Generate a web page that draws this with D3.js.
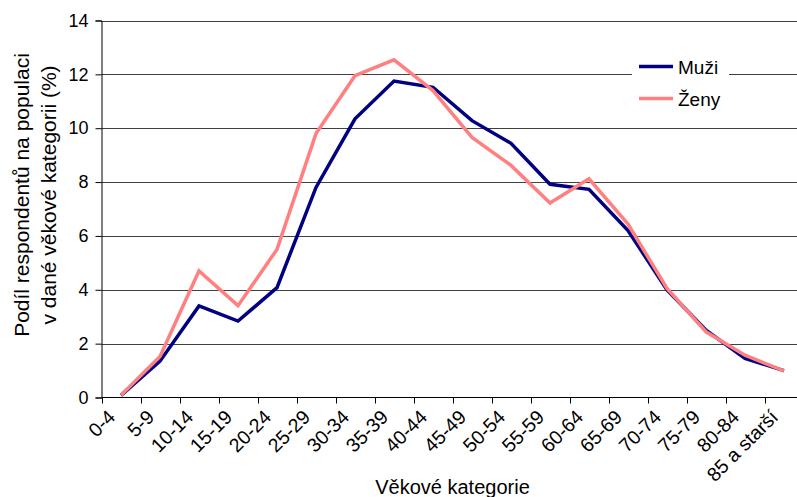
<!DOCTYPE html>
<html>
<head>
<meta charset="utf-8">
<script src="https://cdn.jsdelivr.net/npm/d3@7"></script>
<style>
  html, body { margin: 0; padding: 0; background: #fff; }
  svg { display: block; font-family: "Liberation Sans", Arial, sans-serif; }
</style>
</head>
<body>
<svg id="chart" width="797" height="497"></svg>
<script>
const categories = ["0-4","5-9","10-14","15-19","20-24","25-29","30-34","35-39","40-44","45-49","50-54","55-59","60-64","65-69","70-74","75-79","80-84","85 a starší"];
const muzi = [0.08, 1.35, 3.4, 2.84, 4.08, 7.8, 10.35, 11.75, 11.52, 10.28, 9.44, 7.92, 7.73, 6.2, 4.0, 2.5, 1.45, 1.0];
const zeny = [0.08, 1.52, 4.7, 3.41, 5.5, 9.8, 11.95, 12.54, 11.4, 9.66, 8.62, 7.22, 8.12, 6.44, 4.05, 2.44, 1.57, 0.99];
const yTicks = [0, 2, 4, 6, 8, 10, 12, 14];
const seriesNames = ["Muži", "Ženy"];
const seriesColors = ["#000080", "#FF8080"];
const xTitle = "Věkové kategorie";
const yTitleLines = ["Podíl respondentů na populaci", "v dané věkové kategorii (%)"];

(function () {
const W = 797, H = 497;
const pLeft = 101.5, pRight = 803.5, pTop = 20.5, pBottom = 397.5;

const svg = d3.select("#chart");
const x = d3.scalePoint().domain(categories).range([pLeft, pRight]).padding(0.5);
const y = d3.scaleLinear().domain([0, 14]).range([pBottom, pTop]);
const step = x.step();

// gridlines
svg.append("g").selectAll("line")
  .data(yTicks.filter(v => v > 0))
  .join("line")
  .attr("x1", pLeft).attr("x2", W)
  .attr("y1", d => Math.round(y(d)) + 0.5).attr("y2", d => Math.round(y(d)) + 0.5)
  .attr("stroke", "#404040").attr("stroke-width", 1);

// y axis
const yAxis = svg.append("g")
  .attr("transform", `translate(${pLeft},0)`)
  .call(d3.axisLeft(y).tickValues(yTicks).tickSize(6).tickPadding(7).tickFormat(d3.format("d")));
yAxis.select(".domain").attr("stroke", "#000");
yAxis.selectAll(".tick line").attr("stroke", "#000");
yAxis.selectAll(".tick text").attr("font-size", 18).attr("fill", "#000")
  .attr("font-family", "'Liberation Sans', Arial, sans-serif");

// x axis
const xAxis = svg.append("g")
  .attr("transform", `translate(0,${pBottom})`)
  .call(d3.axisBottom(x).tickSize(0).tickPadding(0));
xAxis.select(".domain").remove();
xAxis.selectAll(".tick text")
  .attr("font-size", 19.5).attr("fill", "#000")
  .attr("font-family", "'Liberation Sans', Arial, sans-serif")
  .attr("text-anchor", "end")
  .attr("dy", "0.35em")
  .attr("transform", "translate(-10,16) rotate(-45)");
svg.append("line").attr("x1", pLeft).attr("x2", W).attr("y1", pBottom).attr("y2", pBottom)
  .attr("stroke", "#000").attr("stroke-width", 1);
svg.append("g").selectAll("line")
  .data(categories.concat(["__end"]))
  .join("line")
  .attr("x1", (d, i) => Math.round(pLeft + i * step) + 0.5)
  .attr("x2", (d, i) => Math.round(pLeft + i * step) + 0.5)
  .attr("y1", pBottom).attr("y2", pBottom + 6)
  .attr("stroke", "#000");

// lines
const series = [muzi, zeny];
const line = d3.line().x((d, i) => x(categories[i])).y(d => y(d));
series.forEach((s, k) => {
  svg.append("path").datum(s)
    .attr("d", line)
    .attr("fill", "none")
    .attr("stroke", seriesColors[k])
    .attr("stroke-width", 3.5)
    .attr("stroke-linejoin", "miter");
});

// legend
const lg = svg.append("g");
lg.append("rect").attr("x", 632).attr("y", 52).attr("width", 97).attr("height", 62).attr("fill", "#fff");
seriesNames.forEach((n, k) => {
  const cy = 66.5 + k * 32;
  lg.append("line").attr("x1", 639).attr("x2", 673).attr("y1", cy).attr("y2", cy)
    .attr("stroke", seriesColors[k]).attr("stroke-width", 3.5);
  lg.append("text").attr("x", 678).attr("y", cy + 7).attr("font-size", 19).attr("fill", "#000").text(n);
});

// titles
svg.append("text").attr("x", (pLeft + pRight) / 2).attr("y", 494)
  .attr("text-anchor", "middle").attr("font-size", 20).attr("fill", "#000").text(xTitle);
const yt = svg.append("text").attr("transform", "translate(0,195) rotate(-90)")
  .attr("text-anchor", "middle").attr("font-size", 21).attr("fill", "#000");
yTitleLines.forEach((t, i) => {
  yt.append("tspan").attr("x", 0).attr("y", i === 0 ? 29 : 56).text(t);
});
})();
</script>
</body>
</html>
